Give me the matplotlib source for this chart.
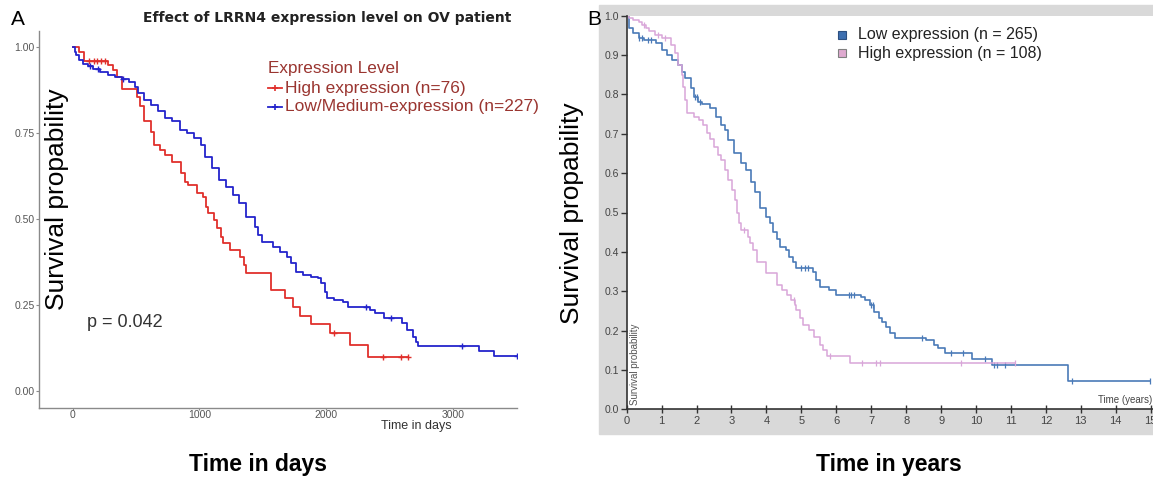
import numpy as np
import matplotlib.pyplot as plt
from matplotlib.patches import Rectangle
from matplotlib.lines import Line2D

plt.rcParams['font.family'] = ['Liberation Sans', 'DejaVu Sans']

# ---- panel A data (days) ----
high_a_t = [0, 50, 88, 281, 320, 347, 387, 505, 530, 559, 616, 644, 687, 730, 786,
            857, 885, 913, 984, 1027, 1055, 1069, 1112, 1140, 1168, 1183, 1239, 1324,
            1353, 1367, 1565, 1678, 1735, 1792, 1877, 2033, 2188, 2330]
high_a_s = [1.0, 0.987, 0.960, 0.947, 0.934, 0.914, 0.878, 0.856, 0.830, 0.784, 0.754,
            0.716, 0.701, 0.687, 0.667, 0.633, 0.609, 0.599, 0.575, 0.565, 0.536, 0.517,
            0.497, 0.473, 0.449, 0.430, 0.410, 0.391, 0.367, 0.342, 0.294, 0.270, 0.245,
            0.218, 0.194, 0.168, 0.134, 0.100]
high_a_end = 2650
high_a_cens = [130, 165, 195, 225, 255, 2061, 2452, 2593, 2650]

low_a_t = [0, 15, 27, 50, 78, 120, 163, 219, 276, 333, 389, 446, 489, 517, 559, 616,
           673, 730, 786, 843, 899, 956, 1013, 1041, 1098, 1155, 1211, 1268, 1310, 1367,
           1437, 1466, 1494, 1579, 1636, 1693, 1721, 1763, 1820, 1877, 1933, 1961, 1990,
           2004, 2061, 2132, 2174, 2344, 2387, 2458, 2599, 2642, 2684, 2713, 2727, 3208,
           3321]
low_a_s = [1.0, 0.985, 0.978, 0.963, 0.951, 0.944, 0.937, 0.929, 0.919, 0.912, 0.907,
           0.900, 0.884, 0.866, 0.847, 0.832, 0.813, 0.793, 0.784, 0.759, 0.750, 0.735,
           0.716, 0.682, 0.648, 0.614, 0.594, 0.570, 0.546, 0.507, 0.478, 0.455, 0.434,
           0.420, 0.405, 0.391, 0.372, 0.347, 0.338, 0.333, 0.328, 0.313, 0.289, 0.270,
           0.265, 0.260, 0.245, 0.236, 0.226, 0.213, 0.197, 0.177, 0.158, 0.143, 0.131,
           0.117, 0.103]
low_a_end = 3506
low_a_cens = [140, 200, 400, 2316, 2514, 3075, 3506]

# ---- panel B data (years) ----
low_b_t = [0, 0.06, 0.18, 0.34, 0.49, 0.85, 1.00, 1.16, 1.31, 1.47, 1.57, 1.67, 1.83,
           1.93, 2.03, 2.15, 2.39, 2.55, 2.70, 2.80, 2.91, 3.06, 3.27, 3.42, 3.57, 3.68,
           3.83, 3.99, 4.09, 4.19, 4.30, 4.40, 4.55, 4.65, 4.75, 4.86, 5.32, 5.42, 5.53,
           5.78, 5.99, 6.71, 6.81, 6.97, 7.07, 7.22, 7.32, 7.43, 7.53, 7.68, 8.56, 8.81,
           8.92, 9.12, 9.89, 10.46, 12.64]
low_b_s = [1.0, 0.968, 0.955, 0.943, 0.938, 0.930, 0.913, 0.900, 0.888, 0.875, 0.858,
           0.841, 0.816, 0.794, 0.781, 0.775, 0.765, 0.743, 0.722, 0.710, 0.684, 0.650,
           0.625, 0.608, 0.578, 0.553, 0.511, 0.489, 0.473, 0.451, 0.432, 0.413, 0.405,
           0.388, 0.375, 0.358, 0.350, 0.329, 0.311, 0.303, 0.290, 0.286, 0.278, 0.265,
           0.248, 0.231, 0.223, 0.210, 0.193, 0.182, 0.176, 0.163, 0.155, 0.144, 0.127,
           0.113, 0.073]
low_b_end = 14.98
low_b_cens = [0.35, 0.45, 0.6, 0.7, 1.95, 2.0, 2.1, 5.0, 5.1, 5.2, 6.35, 6.42, 6.5,
              7.0, 7.05, 8.45, 9.28, 9.64, 10.25, 10.51, 10.61, 10.82, 12.74, 14.98]

high_b_t = [0, 0.08, 0.18, 0.34, 0.44, 0.54, 0.64, 0.80, 1.00, 1.26, 1.37, 1.47, 1.57,
            1.62, 1.67, 1.72, 1.93, 2.08, 2.19, 2.29, 2.39, 2.49, 2.60, 2.70, 2.80, 2.91,
            3.01, 3.11, 3.16, 3.21, 3.27, 3.47, 3.52, 3.62, 3.73, 3.99, 4.29, 4.45, 4.60,
            4.70, 4.81, 4.86, 4.96, 5.06, 5.22, 5.37, 5.53, 5.63, 5.73, 6.40]
high_b_s = [1.0, 0.993, 0.989, 0.985, 0.976, 0.968, 0.960, 0.951, 0.943, 0.926, 0.904,
            0.875, 0.849, 0.820, 0.786, 0.752, 0.743, 0.735, 0.722, 0.701, 0.688, 0.667,
            0.646, 0.633, 0.608, 0.582, 0.557, 0.532, 0.498, 0.473, 0.456, 0.439, 0.422,
            0.405, 0.375, 0.346, 0.316, 0.303, 0.290, 0.278, 0.265, 0.252, 0.231, 0.214,
            0.201, 0.184, 0.163, 0.151, 0.135, 0.117]
high_b_end = 11.12
high_b_cens = [0.5, 0.9, 1.1, 3.35, 4.8, 5.83, 6.74, 7.15, 7.25, 9.58, 11.12]

RED = '#e0302c'
BLUE = '#2424cc'
B_LOW = '#4a7ab8'
B_HIGH = '#d9a6d9'
LEG_TXT = '#9a3530'

W, H = 1153, 478
fig = plt.figure(figsize=(W / 100, H / 100), dpi=100)


def fx(px):
    return px / W


def fy(py):
    return 1 - py / H


def km(ax, t, s, end, cens, color, lw, marker, ms, mew):
    tt = list(t) + [end]
    ss = list(s) + [s[-1]]
    ax.step(tt, ss, where='post', color=color, lw=lw)
    cy = [ss[np.searchsorted(tt, c, side='right') - 1] for c in cens]
    ax.plot(cens, cy, ls='none', marker=marker, ms=ms, mew=mew, color=color)


# ================= panel A =================
axA = fig.add_axes([fx(39.3), fy(408.3), fx(516.7 - 39.3), (408.3 - 31) / H])
km(axA, high_a_t, high_a_s, high_a_end, high_a_cens, RED, 1.3, '+', 4, 1.0)
km(axA, low_a_t, low_a_s, low_a_end, low_a_cens, BLUE, 1.3, '+', 4, 1.0)
axA.set_xlim(-264, 3504)
axA.set_ylim(-0.05, 1.047)
axA.set_xticks([0, 1000, 2000, 3000])
axA.set_yticks([0, 0.25, 0.5, 0.75, 1.0])
axA.set_yticklabels(['0.00', '0.25', '0.50', '0.75', '1.00'])
for sp in ['top', 'right']:
    axA.spines[sp].set_visible(False)
for sp in ['left', 'bottom']:
    axA.spines[sp].set_color('#8a8a8a')
    axA.spines[sp].set_linewidth(1.0)
axA.tick_params(axis='both', colors='#8a8a8a', labelcolor='#555555', labelsize=7.5,
                length=2.5, width=0.8, pad=1)
axA.tick_params(axis='x', length=1.5, pad=0)

axA.text(0.1, 0.227, 'p = 0.042', transform=axA.transAxes, fontsize=13,
         color='#333333', va='center')

fig.text(fx(327), fy(18.3), 'Effect of LRRN4 expression level on OV patient',
         ha='center', va='center', fontsize=10, fontweight='bold', color='#222222',
         family='DejaVu Sans')
fig.text(fx(11), fy(25), 'A', fontsize=15, va='baseline', ha='left')
fig.text(fx(57), fy(199), 'Survival propability', rotation=90, ha='center',
         va='center', fontsize=19)
fig.text(fx(381), fy(426), 'Time in days', ha='left', va='center', fontsize=9,
         color='#333333')
fig.text(fx(258), fy(471), 'Time in days', ha='center', va='baseline', fontsize=16.5,
         fontweight='bold')

# legend A
fig.text(fx(268), fy(68), 'Expression Level', va='center', fontsize=12.3, color=LEG_TXT)
for yy, col, lab in [(88, RED, 'High expression (n=76)'),
                     (106.5, BLUE, 'Low/Medium-expression (n=227)')]:
    fig.add_artist(Line2D([fx(268), fx(282)], [fy(yy), fy(yy)], color=col, lw=1.3))
    fig.add_artist(Line2D([fx(275)], [fy(yy)], color=col, marker='+', ms=5, mew=1.2))
    fig.text(fx(285), fy(yy), lab, va='center', fontsize=12.5, color=LEG_TXT)

# ================= panel B =================
fig.add_artist(Rectangle((fx(599), fy(434)), fx(1153 - 599), (434 - 5) / H,
                         transform=fig.transFigure, color='#d9d9d9', zorder=0))
axB = fig.add_axes([fx(626.7), fy(409.3), fx(1153 - 626.7), (409.3 - 15.7) / H])
axB.set_facecolor('white')
km(axB, low_b_t, low_b_s, low_b_end, low_b_cens, B_LOW, 1.2, '|', 5, 0.9)
km(axB, high_b_t, high_b_s, high_b_end, high_b_cens, B_HIGH, 1.1, '|', 5, 0.9)
axB.set_xlim(0, (1153 - 626.7) / 34.93)
axB.set_ylim(0, 1.0)
axB.set_xticks(range(0, 16))
axB.set_yticks(np.round(np.arange(0, 1.01, 0.1), 1))
axB.set_yticklabels(['%.1f' % v for v in np.arange(0, 1.01, 0.1)])
for sp in ['top', 'right']:
    axB.spines[sp].set_visible(False)
for sp in ['left', 'bottom']:
    axB.spines[sp].set_color('#333333')
    axB.spines[sp].set_linewidth(1.2)
axB.tick_params(axis='y', colors='#333333', labelcolor='#444444', labelsize=7.5,
                length=4.5, width=1.0, pad=1)
axB.tick_params(axis='x', direction='inout', colors='#333333', labelcolor='#444444',
                labelsize=8, length=6, width=1.0, pad=1.5)
axB.text(0.006, 0.01, 'Survival probability', rotation=90, transform=axB.transAxes,
         ha='left', va='bottom', fontsize=7, color='#555555')
axB.text(0.998, 0.012, 'Time (years)', transform=axB.transAxes, ha='right',
         va='bottom', fontsize=7, color='#444444')

# legend B
for yy, fc, ec, lab in [(35, '#3d6fb0', '#2c4f80', 'Low expression (n = 265)'),
                        (53.3, '#dfaad0', '#808080', 'High expression (n = 108)')]:
    fig.add_artist(Rectangle((fx(838), fy(yy + 4)), fx(8), 8 / H,
                             transform=fig.transFigure, fc=fc, ec=ec, lw=0.8))
    fig.text(fx(858), fy(yy), lab, va='center', fontsize=11.5, color='#222222')

fig.text(fx(587), fy(25), 'B', fontsize=15, va='baseline', ha='left')
fig.text(fx(572), fy(213), 'Survival propability', rotation=90, ha='center',
         va='center', fontsize=19)
fig.text(fx(889), fy(471), 'Time in years', ha='center', va='baseline',
         fontsize=16.5, fontweight='bold')

fig.savefig('out.png', dpi=100)
